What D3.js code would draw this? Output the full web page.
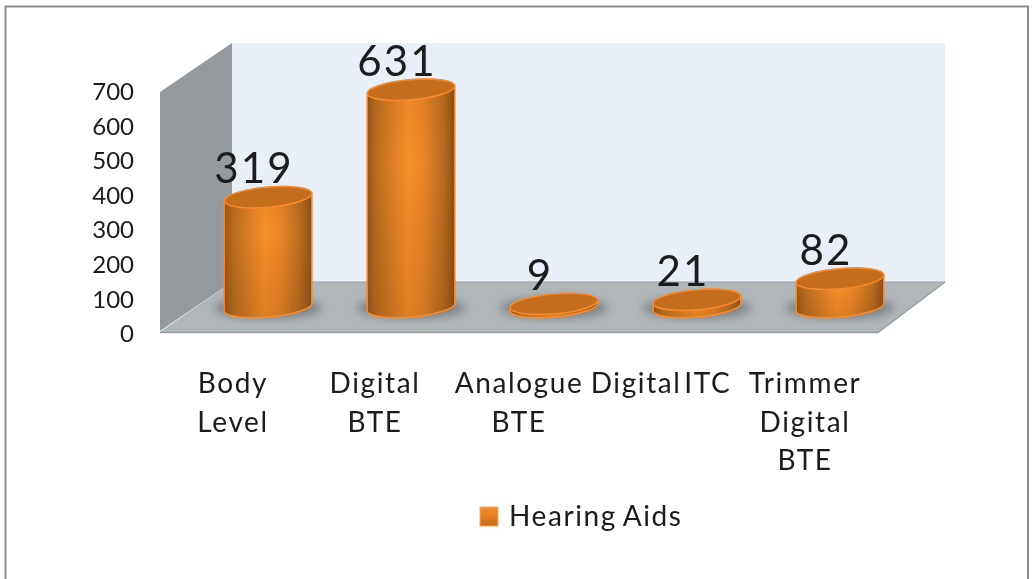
<!DOCTYPE html>
<html><head><meta charset="utf-8">
<script src="https://cdn.jsdelivr.net/npm/d3@7/dist/d3.min.js"></script>
<style>html,body{margin:0;padding:0;background:#fff;overflow:hidden}svg{display:block}text{font-family:Lato,"Open Sans",sans-serif;fill:#1a1a1a}</style>
</head><body><svg id="c" width="1033" height="579"></svg>
<script>
const categories=["Body Level","Digital BTE","Analogue BTE","Digital ITC","Trimmer Digital BTE"];
const categoryLines=[["Body","Level"],["Digital","BTE"],["Analogue","BTE"],["Digital ITC"],["Trimmer","Digital","BTE"]];
const values=[319,631,9,21,82];
const tickValues=[0,100,200,300,400,500,600,700];
const seriesName="Hearing Aids";

const root=d3.select("#c");
const defs=root.append("defs");
const g=defs.append("linearGradient").attr("id","body");
[[0,"#98561a"],[.1,"#bb6c20"],[.47,"#fb9029"],[.62,"#ef8826"],[.88,"#b86a20"],[1,"#8a4e16"]].forEach(s=>g.append("stop").attr("offset",s[0]).attr("stop-color",s[1]));
const sh=defs.append("linearGradient").attr("id","shade").attr("x1",0).attr("x2",0).attr("y1",0).attr("y2",1);
[[0,.1],[.35,0],[1,.2]].forEach(s=>sh.append("stop").attr("offset",s[0]).attr("stop-color","#6a3a10").attr("stop-opacity",s[1]));
const lg=defs.append("linearGradient").attr("id","leg").attr("x1",0).attr("x2",0).attr("y1",0).attr("y2",1);
[[0,"#fb8e27"],[1,"#c66c1c"]].forEach(s=>lg.append("stop").attr("offset",s[0]).attr("stop-color",s[1]));
defs.append("filter").attr("id","blur").attr("x","-30%").attr("y","-60%").attr("width","160%").attr("height","220%").append("feGaussianBlur").attr("stdDeviation",5);
defs.append("filter").attr("id","soft").attr("filterUnits","userSpaceOnUse").attr("x",0).attr("y",0).attr("width",1033).attr("height",579).append("feGaussianBlur").attr("stdDeviation",.5);

const svg=root.append("g").attr("filter","url(#soft)");
svg.append("path").attr("d","M5.5 579V6.5H1028V579").attr("fill","none").attr("stroke","#8b8b8b").attr("stroke-width",2);

// walls and floor
const line=d3.line();
svg.append("path").attr("d",line([[232,43],[945,43],[945,282],[232,282]])+"Z").attr("fill","#e8eff6");
svg.append("path").attr("d",line([[160,92],[232,43],[232,282],[160,331]])+"Z").attr("fill","#949a9d");
svg.append("path").attr("d",line([[232,282],[945,282],[878,332],[160,332]])+"Z").attr("fill","#b1b6b9");
svg.append("path").attr("d",line([[232,282],[945,282]])).attr("stroke","#9aa0a3").attr("fill","none");
svg.append("path").attr("d",line([[160,332.5],[878,332.5],[945,282]])).attr("stroke","#989da0").attr("stroke-width",1.5).attr("fill","none");

const x=d3.scalePoint().domain(categories).range([268,840]);
const yBar=d3.scaleLinear().domain([0,700]).range([307,66]);
const yTick=d3.scaleLinear().domain([0,700]).range([333,91]);

// axis labels via d3 axis
const axis=d3.axisLeft(yTick).tickValues(tickValues).tickSize(0).tickPadding(0);
const ax=svg.append("g").attr("transform","translate(134,0)").call(axis);
ax.select(".domain").remove();
ax.selectAll("text").attr("font-size",24).attr("dy","0.36em").attr("text-anchor","end").style("font-family","Lato,sans-serif");

const rx=44,ry=10,rot=-5,dx=rx*Math.cos(rot*Math.PI/180),dy=-rx*Math.sin(rot*Math.PI/180);
const bars=svg.append("g").selectAll("g").data(values).join("g").attr("transform",(d,i)=>`translate(${x(categories[i])},0)`);
bars.append("ellipse").attr("cx",0).attr("cy",yBar(0)+1).attr("rx",rx+10).attr("ry",ry).attr("fill","#5f666b").attr("opacity",.7).attr("filter","url(#blur)");
const bodyPath=d=>{const t=yBar(d),b=yBar(0);return `M${-dx} ${t+dy}A${rx} ${ry} ${rot} 0 1 ${dx} ${t-dy}L${dx} ${b-dy}A${rx} ${ry} ${rot} 0 1 ${-dx} ${b+dy}Z`;};
bars.append("path").attr("fill","url(#body)").attr("d",bodyPath);
bars.append("path").attr("fill","url(#shade)").attr("stroke","#f98b2e").attr("stroke-width",1.5).attr("d",bodyPath);
bars.append("ellipse").attr("rx",rx).attr("ry",ry).attr("transform",d=>`translate(0,${yBar(d)}) rotate(${rot})`).attr("fill","#c46d1c").attr("stroke","#f98b2e").attr("stroke-width",1.5);
bars.append("text").attr("text-anchor","middle").attr("x",-14).attr("y",d=>yBar(d)-14).attr("font-size",42).attr("letter-spacing",2.2).text(d=>d);

// category labels
const cats=svg.append("g").selectAll("text").data(categoryLines).join("text").attr("text-anchor","middle").attr("font-size",28).attr("letter-spacing",1.6).attr("word-spacing",-6)
 .attr("transform",(d,i)=>`translate(${[233,375,519,661,805][i]},393)`);
cats.selectAll("tspan").data(d=>d).join("tspan").attr("x",0).attr("y",(d,i)=>i*38.5).text(d=>d);

// legend
svg.append("rect").attr("x",480).attr("y",507).attr("width",18).attr("height",19).attr("fill","url(#leg)").attr("stroke","#f9a860").attr("stroke-width",1);
svg.append("text").attr("x",509).attr("y",526).attr("font-size",28).attr("letter-spacing",1.6).attr("word-spacing",-2).text(seriesName);
</script></body></html>
